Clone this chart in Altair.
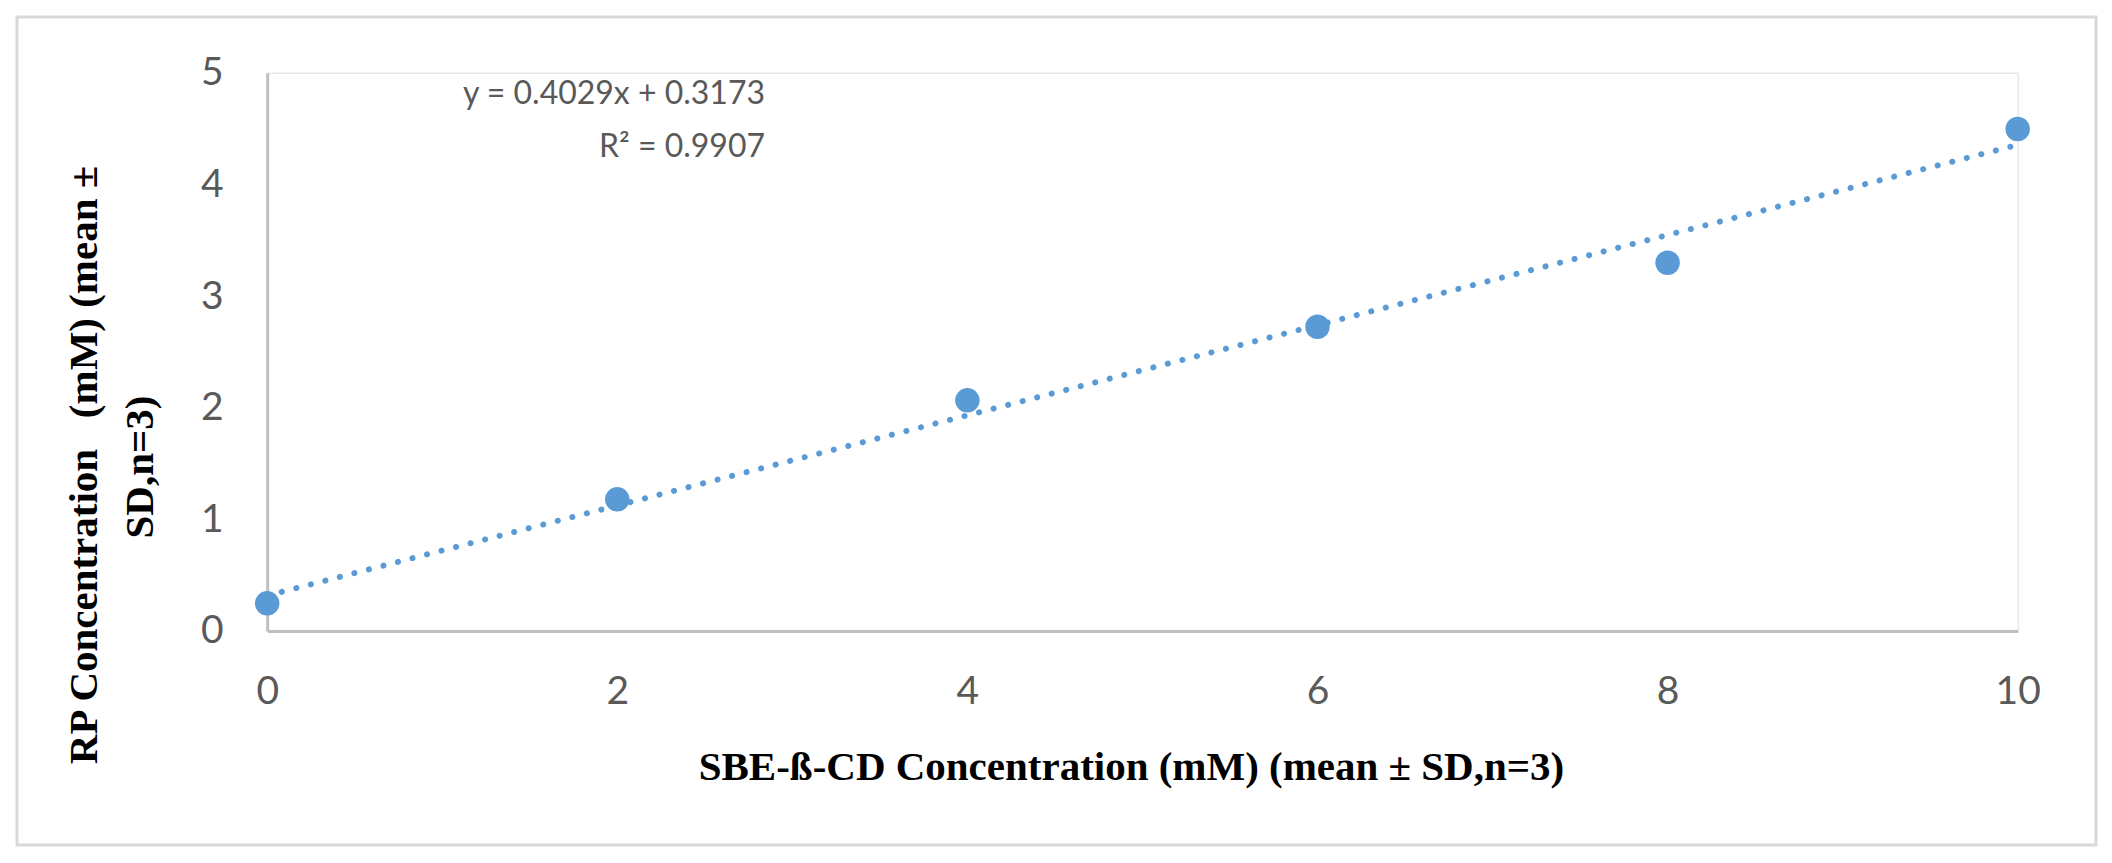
import altair as alt
import pandas as pd

# ---- data ----
conc = [0, 2, 4, 6, 8, 10]
rp = [0.248, 1.179, 2.066, 2.725, 3.298, 4.496]
x_ticks = [0, 2, 4, 6, 8, 10]
y_ticks = [0, 1, 2, 3, 4, 5]
eq_line = "y = 0.4029x + 0.3173"
r2_line = "R² = 0.9907"
x_title = "SBE-ß-CD Concentration (mM) (mean ± SD,n=3)"
y_title_1 = "RP Concentration\u00a0\u00a0\u00a0(mM) (mean ±"
y_title_2 = "SD,n=3)"

df = pd.DataFrame({"x": conc, "y": rp})

W = 1750.5
H = 558.3
BLUE = "#5B9BD5"
AXIS_GRAY = "#BFBFBF"
TXT_GRAY = "#595959"

xscale = alt.Scale(domain=[0, 10], nice=False, zero=False)
yscale = alt.Scale(domain=[0, 5], nice=False)

xaxis = alt.Axis(
    values=x_ticks, title=x_title, grid=False, ticks=False,
    domainColor=AXIS_GRAY, domainWidth=3,
    labelFont="Lato", labelFontSize=39, labelColor=TXT_GRAY,
    labelPadding=42, labelFlush=False,
    titleFont="Liberation Serif", titleFontWeight="bold", titleFontSize=41,
    titleColor="black", titleX=863.8, titleY=136.8,
    titleBaseline="middle", titleAlign="center",
)
yaxis = alt.Axis(
    values=y_ticks, title=None, grid=False, ticks=False,
    domainColor=AXIS_GRAY, domainWidth=3,
    labelFont="Lato", labelFontSize=39, labelColor=TXT_GRAY,
    labelPadding=44, labelFlush=False,
)

base = alt.Chart(df)

trend = base.transform_regression("x", "y", extent=[0, 10]).mark_line(
    color=BLUE, strokeWidth=6, strokeDash=[0.1, 14.9], strokeCap="round"
).encode(
    x=alt.X("x:Q", scale=xscale, axis=xaxis),
    y=alt.Y("y:Q", scale=yscale, axis=yaxis),
)

points = base.mark_circle(size=600, color=BLUE, opacity=1).encode(
    x=alt.X("x:Q", scale=xscale, axis=xaxis),
    y=alt.Y("y:Q", scale=yscale, axis=yaxis),
)

one = alt.Data(values=[{}])

frame = alt.Chart(one).mark_rect(
    fill="transparent", stroke="#D9D9D9", strokeWidth=3
).encode(
    x=alt.value(-250.2), x2=alt.value(1828.8),
    y=alt.value(-55.7), y2=alt.value(772.3),
)

eq1 = alt.Chart(one).mark_text(
    font="Lato", fontSize=32, color=TXT_GRAY, align="right", baseline="middle"
).encode(x=alt.value(497.8), y=alt.value(21.6), text=alt.value(eq_line))

eq2 = alt.Chart(one).mark_text(
    font="Lato", fontSize=32, color=TXT_GRAY, align="right", baseline="middle"
).encode(x=alt.value(497.8), y=alt.value(74.0), text=alt.value(r2_line))

yt1 = alt.Chart(one).mark_text(
    font="Liberation Serif", fontWeight="bold", fontSize=41, color="black",
    align="center", baseline="middle", angle=270
).encode(x=alt.value(-182.2), y=alt.value(392.3), text=alt.value(y_title_1))

yt2 = alt.Chart(one).mark_text(
    font="Liberation Serif", fontWeight="bold", fontSize=41, color="black",
    align="center", baseline="middle", angle=270
).encode(x=alt.value(-126.2), y=alt.value(394.3), text=alt.value(y_title_2))

chart = alt.layer(frame, trend, points, eq1, eq2, yt1, yt2).properties(
    width=W, height=H,
    autosize=alt.AutoSizeParams(type="none"),
    padding={"left": 259.2, "top": 64.7, "right": 86, "bottom": 224},
).configure_view(stroke=None).configure(background="white")

chart.save("out.html", embed_options={"renderer": "svg", "actions": False})
